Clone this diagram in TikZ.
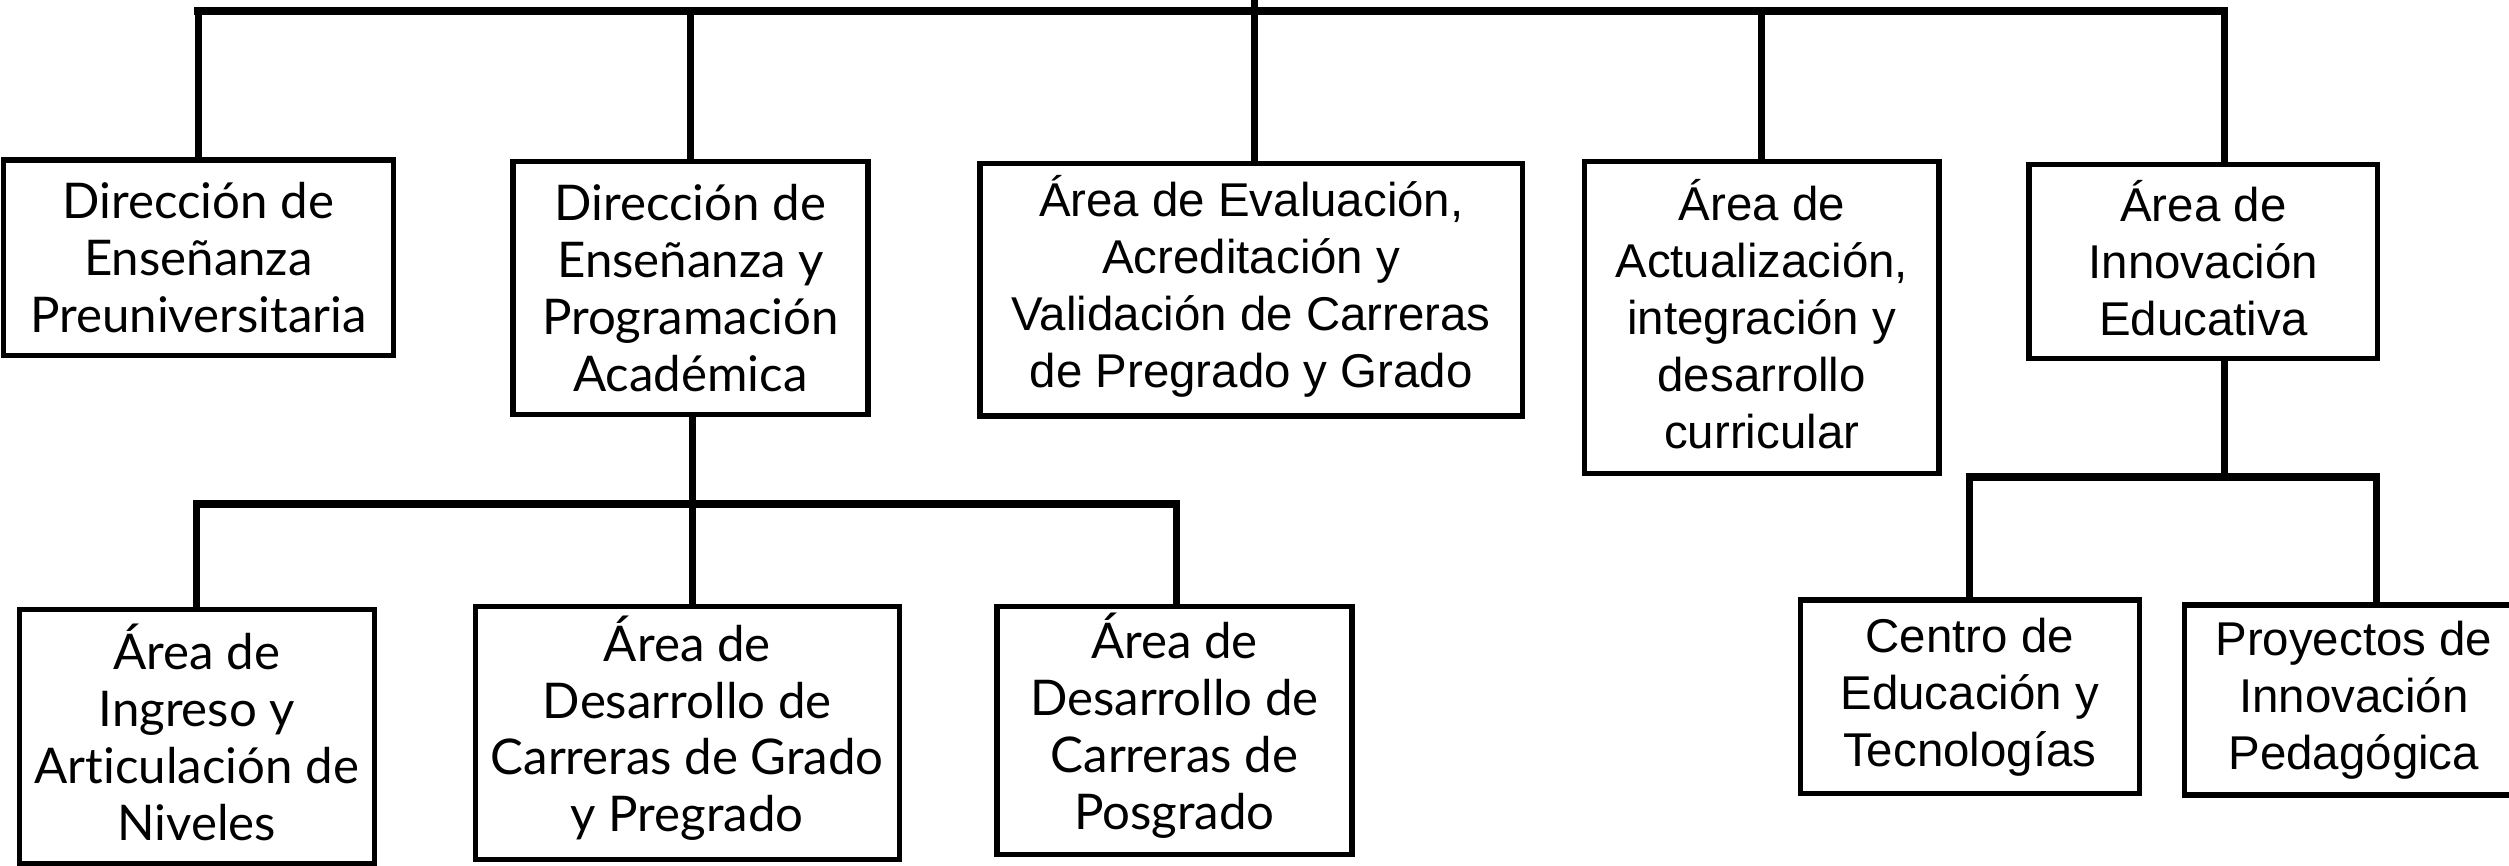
\documentclass[tikz,border=0pt]{standalone}
\usepackage{fontspec}
\setmainfont{Lato}[Ligatures=NoCommon]
\newfontfamily\arialfont{Liberation Sans}
\usetikzlibrary{positioning}

\begin{document}
\begin{tikzpicture}[x=0.016cm, y=-0.016cm]
		\tikzset{box/.style = {shape=rectangle,draw,line width=1.5pt,align=center,inner sep=0pt,font=\fontsize{14}{16.2}\selectfont}}
		\tikzset{abox/.style = {box,font=\arialfont\fontsize{13.5}{16.2}\selectfont}}
		\tikzset{link/.style = {line width=2pt,line cap=rect}}
		\tikzset{bar/.style = {line width=2.4pt,line cap=rect}}
		\useasboundingbox (0,0) rectangle (1568,541);
		\clip (0,0) rectangle (1568,541);
		% top level
		\node[box, minimum width=3.904cm, minimum height=1.952cm] (pre) at (124,161) {Dirección de\\Enseñanza\\Preuniversitaria};
		\node[box, minimum width=3.552cm, minimum height=2.528cm] (prog) at (431.5,180) {Dirección de\\Enseñanza y\\Programación\\Académica};
		\node[abox, minimum width=5.43cm, minimum height=2.528cm] (eval) at (782,181) {\smash{Á}rea de Evaluación,\\Acreditación y\\Validación de Carreras\\de Pregrado y Grado};
		\node[abox, minimum width=3.544cm, minimum height=3.12cm] (act) at (1101,198.5) {\smash{Á}rea de\\Actualización,\\integración y\\desarrollo\\curricular};
		\node[abox, minimum width=3.488cm, minimum height=1.936cm] (innov) at (1377,163.5) {\smash{Á}rea de\\Innovación\\Educativa};
		% second level
		\node[box, minimum width=3.552cm, minimum height=2.544cm] (ingr) at (123,460.5) {\smash{Á}rea de\\Ingreso y\\Articulación de\\Niveles};
		\node[box, minimum width=4.24cm, minimum height=2.528cm] (grado) at (429.5,458) {\smash{Á}rea de\\Desarrollo de\\Carreras de Grado\\y Pregrado};
		\node[box, minimum width=3.552cm, minimum height=2.48cm] (posg) at (734,456.5) {\smash{Á}rea de\\Desarrollo de\\Carreras de\\Posgrado};
		\node[abox, minimum width=3.392cm, minimum height=1.936cm] (cet) at (1231,435.5) {Centro de\\Educación y\\Tecnologías};
		\node[abox, minimum width=3.392cm, minimum height=1.9cm] (proy) at (1471,437.5) {Proyectos de\\Innovación\\Pedagógica};
		% joints
		\coordinate (root) at (784,-10);
		\coordinate (top) at (784,7);
		\coordinate (topr) at (1390,7);
		\coordinate (mid) at (433,315);
		\coordinate (midr) at (735,315);
		\coordinate (low) at (1390,298);
		\coordinate (lowr) at (1485,298);
		% lines
		\draw[bar] (pre.north |- top) -- (topr);
		\draw[link] (root) -- (top);
		\draw[link] (pre.north) -- (pre.north |- top);
		\draw[link] (prog.north) -- (prog.north |- top);
		\draw[link] (eval.north -| top) -- (top);
		\draw[link] (act.north) -- (act.north |- top);
		\draw[link] (innov.north -| topr) -- (topr);
		\draw[link] (prog.south -| mid) -- (mid);
		\draw[bar] (ingr.north |- mid) -- (midr);
		\draw[link] (ingr.north) -- (ingr.north |- mid);
		\draw[link] (grado.north -| mid) -- (mid);
		\draw[link] (posg.north -| midr) -- (midr);
		\draw[link] (innov.south -| low) -- (low);
		\draw[bar] (cet.north |- low) -- (lowr);
		\draw[link] (cet.north) -- (cet.north |- low);
		\draw[link] (proy.north -| lowr) -- (lowr);
\end{tikzpicture}
\end{document}
